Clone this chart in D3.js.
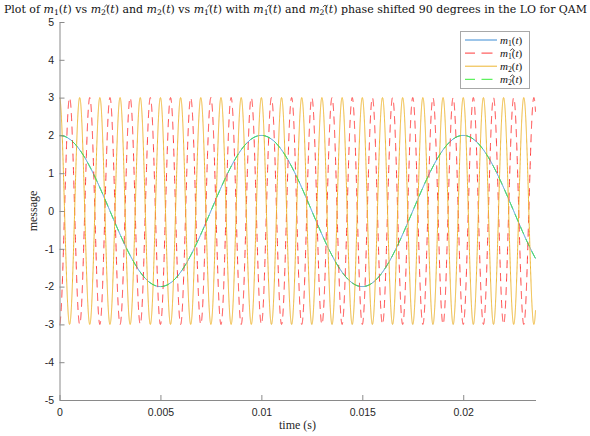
<!DOCTYPE html>
<html>
<head>
<meta charset="utf-8">
<script src="https://cdn.jsdelivr.net/npm/d3@7"></script>
<style>
  body { margin: 0; background: #fff; }
  svg { display: block; }
</style>
</head>
<body>
<svg id="chart" width="590" height="436"></svg>
<script>
// Transmitted and recovered QAM message signals (cosines)
const seriesSubscripts = ["1", "1", "2", "2"];
const seriesHats = [false, true, false, true];
const amplitudes = [2, 3, 3, 2];
const frequenciesHz = [100, 1000, 1000, 100];
const phasesDeg = [0, 180, 0, 0];
const seriesColors = ["#3a8bd4", "#ff3a3a", "#edb530", "#38ee38"];
const seriesDashed = [false, true, false, true];
const timeStart = 0;
const timeEnd = 0.02358;
const sampleStep = 2e-6;
const xTickValues = [0, 0.005, 0.01, 0.015, 0.02];
const yTickValues = [-5, -4, -3, -2, -1, 0, 1, 2, 3, 4, 5];
const yDomain = [-5, 5];

const svg = d3.select("#chart");
const plot = { left: 59.5, right: 535.5, top: 22, bottom: 400 };
const serif = "'Liberation Serif', 'DejaVu Serif', serif";
const wideSerif = "'DejaVu Serif', 'Liberation Serif', serif";
const sans = "'Liberation Sans', Arial, sans-serif";

const x = d3.scaleLinear().domain([timeStart, timeEnd]).range([plot.left, plot.right]);
const y = d3.scaleLinear().domain(yDomain).range([plot.bottom, plot.top]);

svg.append("defs").append("clipPath").attr("id", "plotClip")
  .append("rect")
  .attr("x", plot.left).attr("y", plot.top - 2)
  .attr("width", plot.right - plot.left + 3)
  .attr("height", plot.bottom - plot.top + 4);

// sample times
const times = d3.range(timeStart, timeEnd + sampleStep / 2, sampleStep);
const series = amplitudes.map((a, i) => times.map(t => ({
  t,
  v: a * Math.cos(2 * Math.PI * frequenciesHz[i] * t + phasesDeg[i] * Math.PI / 180)
})));

const line = d3.line().x(d => x(d.t)).y(d => y(d.v));

const traces = svg.append("g").attr("clip-path", "url(#plotClip)");
series.forEach((s, i) => {
  traces.append("path")
    .datum(s)
    .attr("d", line)
    .attr("fill", "none")
    .attr("stroke", seriesColors[i])
    .attr("stroke-width", 1)
    .attr("stroke-dasharray", seriesDashed[i] ? "8,5.5" : null);
});

// axes
const axisColor = "#8a8a8a";
const xAxis = d3.axisBottom(x).tickValues(xTickValues).tickFormat(d => String(d))
  .tickSizeInner(-5).tickSizeOuter(0).tickPadding(9);
const yAxis = d3.axisLeft(y).tickValues(yTickValues).tickFormat(d => String(d))
  .tickSizeInner(-5).tickSizeOuter(0).tickPadding(5.5);

const gx = svg.append("g").attr("transform", `translate(0,${plot.bottom})`).call(xAxis);
const gy = svg.append("g").attr("transform", `translate(${plot.left},0)`).call(yAxis);
[gx, gy].forEach(g => {
  g.select(".domain").attr("stroke", axisColor);
  g.selectAll(".tick line").attr("stroke", axisColor);
  g.selectAll(".tick text").attr("fill", "#262626")
    .style("font-family", sans).style("font-size", "10.5px");
});

// hat accents, drawn after layout over the subscripts that carry one
const hatLayer = svg.append("g").attr("fill", "none").attr("stroke", "#222").attr("stroke-width", 0.8);
const hatTargets = [];

// math-style label: m_k(t)
function mathLabel(text, sub, hat, size) {
  let cur = 0;
  const add = (str, opt = {}) => {
    const ts = text.append("tspan").text(str).attr("font-size", size * (opt.scale || 1));
    if (opt.italic) ts.attr("font-style", "italic");
    const off = opt.off || 0;
    if (off !== cur) ts.attr("dy", off - cur);
    cur = off;
    return ts;
  };
  add("m", { italic: true });
  const s = add(sub, { scale: 0.7, off: size * 0.22 });
  if (hat) hatTargets.push({ node: s.node(), size });
  add("(", { off: 0 });
  add("t", { italic: true });
  add(")");
}

function plain(text, str, size) {
  text.append("tspan").text(str).attr("font-size", size);
}

// title
const title = svg.append("text")
  .attr("x", 295.5).attr("y", 13)
  .attr("text-anchor", "middle")
  .attr("fill", "#111")
  .style("font-family", wideSerif);

function buildTitle(size) {
  title.selectAll("*").remove();
  plain(title, "Plot of ", size);
  mathLabel(title, "1", false, size);
  plain(title, " vs ", size);
  mathLabel(title, "2", true, size);
  plain(title, " and ", size);
  mathLabel(title, "2", false, size);
  plain(title, " vs ", size);
  mathLabel(title, "1", true, size);
  plain(title, " with ", size);
  mathLabel(title, "1", true, size);
  plain(title, " and ", size);
  mathLabel(title, "2", true, size);
  plain(title, " phase shifted 90 degrees in the LO for QAM", size);
}
buildTitle(11);
const tw = title.node().getBBox().width;
hatTargets.length = 0;
buildTitle(11 * 584 / tw);

// axis labels
svg.append("text")
  .attr("x", 297.5).attr("y", 429)
  .attr("text-anchor", "middle")
  .attr("fill", "#262626")
  .style("font-family", serif).style("font-size", "12px")
  .text("time (s)");

svg.append("text")
  .attr("transform", "translate(37,211) rotate(-90)")
  .attr("text-anchor", "middle")
  .attr("fill", "#262626")
  .style("font-family", serif).style("font-size", "12px")
  .text("message");

// legend
const legend = svg.append("g");
legend.append("rect")
  .attr("x", 460.5).attr("y", 31.5)
  .attr("width", 69).attr("height", 57)
  .attr("fill", "#fff")
  .attr("stroke", "#a8a8a8").attr("stroke-width", 1);

seriesColors.forEach((c, i) => {
  const ly = 40 + i * 13.1;
  legend.append("line")
    .attr("x1", 465).attr("x2", 497)
    .attr("y1", ly).attr("y2", ly)
    .attr("stroke", c).attr("stroke-width", 1)
    .attr("stroke-dasharray", seriesDashed[i] ? "10,6.5,11,100" : null);
  const t = legend.append("text")
    .attr("x", 500).attr("y", ly + 3.5)
    .attr("fill", "#111")
    .style("font-family", serif);
  mathLabel(t, seriesSubscripts[i], seriesHats[i], 11);
});

// place each hat just above and right of its subscript
svg.node().appendChild(hatLayer.node());
hatTargets.forEach(({ node, size }) => {
  const ext = node.getExtentOfChar(0);
  const base = node.getStartPositionOfChar(0);
  const cx = ext.x + ext.width + size * 0.05;
  const baseline = base.y - size * 0.22;
  const top = baseline - size * 0.72;
  const w = size * 0.2;
  hatLayer.append("path")
    .attr("d", `M${cx - w},${top + w * 0.9}L${cx},${top}L${cx + w},${top + w * 0.9}`);
});
</script>
</body>
</html>
